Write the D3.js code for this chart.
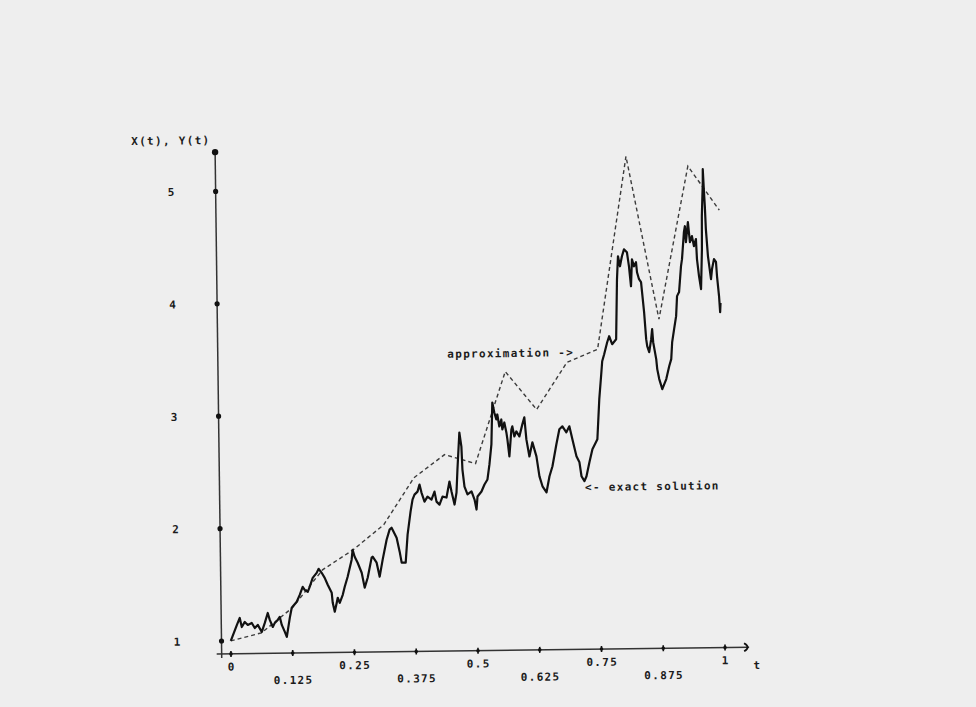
<!DOCTYPE html>
<html>
<head>
<meta charset="utf-8">
<script src="https://cdn.jsdelivr.net/npm/d3@7"></script>
<style>
  body { margin: 0; background: #eeeeee; }
  .lbl { font-family: "DejaVu Sans Mono", monospace; font-weight: bold; font-size: 11px; letter-spacing: 1.3px; fill: #1c1c1c; }
</style>
</head>
<body>
<div id="chart"></div>
<script>
// exact solution X(t)
var tExact = [0, .0126, .0187, .0226, .0288, .0348, .0429, .0489, .055, .063,
  .0693, .0755, .0794, .0854, .0895, .0956, .0997, .1036, .1096, .1135,
  .12, .1242, .1345, .1407, .1469, .1509, .157, .1611, .1674, .1756,
  .1797, .1857, .1917, .1976, .2055, .2073, .2112, .2154, .2176, .2215,
  .2278, .232, .2382, .2467, .2489, .2529, .2588, .2667, .2724, .2787,
  .2872, .2893, .2972, .303, .3095, .318, .3243, .3284, .3383, .3441,
  .3479, .356, .3606, .3672, .3715, .3756, .3818, .386, .3898, .3957,
  .4019, .4099, .4162, .42, .426, .4323, .4403, .4467, .4506, .4564,
  .4607, .4632, .468, .4718, .4733, .477, .4829, .4911, .497, .5008,
  .5031, .5113, .5175, .5237, .5281, .5326, .5355, .5393, .5432, .5453,
  .5491, .5533, .5551, .5593, .5632, .5651, .5687, .5734, .5754, .5793,
  .5834, .5894, .5957, .5999, .6035, .6092, .6156, .6234, .629, .6349,
  .6429, .6493, .6556, .6641, .6705, .6767, .6846, .6908, .6966, .7044,
  .7103, .7141, .72, .7242, .7305, .7369, .7472, .7521, .7567, .759,
  .7632, .7696, .7737, .7796, .7878, .7911, .7937, .7975, .8017, .806,
  .8119, .8157, .8193, .8219, .8258, .83, .8318, .8357, .8397, .8415,
  .8451, .8486, .8505, .8544, .8587, .8609, .8627, .8684, .8702, .874,
  .8799, .8882, .8946, .8988, .9011, .9054, .9098, .9122, .9164, .921,
  .9232, .9278, .9299, .9316, .9361, .9397, .9439, .9477, .9519, .9535,
  .9572, .961, .9638, .9645, .9673, .9676, .9692, .9708, .9723, .9758,
  .9814, .9837, .9879, .9919, .9936, .9972, .999, 1];
var vExact = [1.0, 1.14, 1.203, 1.122, 1.167, 1.14, 1.157, 1.112, 1.139, 1.076,
  1.156, 1.244, 1.182, 1.119, 1.155, 1.181, 1.208, 1.136, 1.074, 1.029,
  1.198, 1.287, 1.34, 1.401, 1.472, 1.445, 1.427, 1.472, 1.551, 1.595,
  1.631, 1.595, 1.55, 1.488, 1.416, 1.327, 1.247, 1.327, 1.371, 1.326,
  1.397, 1.468, 1.557, 1.708, 1.796, 1.734, 1.68, 1.591, 1.458, 1.546,
  1.724, 1.732, 1.679, 1.554, 1.705, 1.882, 1.971, 1.988, 1.899, 1.774,
  1.676, 1.676, 1.924, 2.129, 2.235, 2.28, 2.306, 2.368, 2.297, 2.216,
  2.26, 2.234, 2.304, 2.215, 2.188, 2.259, 2.25, 2.392, 2.303, 2.187,
  2.293, 2.498, 2.827, 2.702, 2.497, 2.346, 2.275, 2.301, 2.229, 2.14,
  2.256, 2.3, 2.362, 2.406, 2.54, 2.717, 3.09, 3.001, 2.939, 2.983,
  2.876, 2.938, 2.849, 2.911, 2.822, 2.76, 2.609, 2.848, 2.875, 2.786,
  2.83, 2.785, 2.892, 2.954, 2.758, 2.606, 2.731, 2.606, 2.428, 2.339,
  2.285, 2.427, 2.516, 2.711, 2.844, 2.87, 2.816, 2.869, 2.754, 2.602,
  2.548, 2.424, 2.38, 2.423, 2.548, 2.663, 2.751, 3.107, 3.329, 3.444,
  3.506, 3.613, 3.666, 3.595, 3.638, 4.172, 4.376, 4.287, 4.376, 4.437,
  4.411, 4.286, 4.108, 4.348, 4.285, 4.321, 4.232, 4.17, 4.143, 4.054,
  3.876, 3.636, 3.573, 3.52, 3.635, 3.724, 3.608, 3.457, 3.368, 3.279,
  3.189, 3.278, 3.394, 3.455, 3.606, 3.722, 3.837, 4.015, 4.051, 4.281,
  4.343, 4.583, 4.636, 4.494, 4.672, 4.493, 4.547, 4.458, 4.52, 4.342,
  4.191, 4.075, 4.43, 4.724, 5.026, 5.141, 4.964, 4.812, 4.608, 4.368,
  4.163, 4.252, 4.34, 4.314, 4.189, 4.011, 3.868, 3.95];

// approximation Y(t) at the grid points t = k/16
var tApprox = [0, .0625, .125, .1875, .25, .3125, .375, .4375, .5,
  .5625, .625, .6875, .75, .8125, .875, .9375, 1];
var vApprox = [1.0, 1.068, 1.286, 1.621, 1.796, 2.015, 2.43, 2.632, 2.549,
  3.364, 3.023, 3.438, 3.551, 5.264, 3.812, 5.17, 4.775];

// axis ticks
var xTicks = [0, 0.125, 0.25, 0.375, 0.5, 0.625, 0.75, 0.875, 1];
var xTickLabels = ["0", "0.125", "0.25", "0.375", "0.5", "0.625", "0.75", "0.875", "1"];
var yTicks = [1, 2, 3, 4, 5];
var yTickLabels = ["1", "2", "3", "4", "5"];

var exactData = tExact.map(function(t, i) { return { t: t, v: vExact[i] }; });
var approxData = tApprox.map(function(t, i) { return { t: t, v: vApprox[i] }; });

var width = 976, height = 707;

var svg = d3.select("#chart")
  .append("svg")
  .attr("width", width)
  .attr("height", height);

svg.append("rect")
  .attr("width", width)
  .attr("height", height)
  .attr("fill", "#eeeeee");

// the scanned plot sits slightly askew
var g = svg.append("g")
  .attr("transform", "rotate(-0.75, 221.5, 641)");

var xScale = d3.scaleLinear().domain([0, 1]).range([230.8, 724.9]);
var yScale = d3.scaleLinear().domain([1, 5]).range([641, 191.4]);

var axisX = xScale(-0.0188);   // where the vertical axis stands
var axisY = yScale(0.884);     // where the horizontal axis lies
var yTop = yScale(5.35);

// vertical axis
g.append("line")
  .attr("x1", axisX).attr("x2", axisX)
  .attr("y1", yTop).attr("y2", axisY + 4)
  .attr("stroke", "#333").attr("stroke-width", 1.5);

g.append("circle")
  .attr("cx", axisX).attr("cy", yTop).attr("r", 3.2)
  .attr("fill", "#111");

var yAxis = g.append("g")
  .attr("transform", "translate(" + axisX + ",0)")
  .call(d3.axisLeft(yScale)
    .tickValues(yTicks)
    .tickSize(0)
    .tickPadding(40)
    .tickFormat(function(d, i) { return yTickLabels[i]; }));
yAxis.select(".domain").remove();
yAxis.selectAll("text").attr("class", "lbl").attr("font-family", null).attr("font-size", null).attr("fill", null);

g.selectAll(".ydot")
  .data(yTicks)
  .enter()
  .append("circle")
  .attr("class", "ydot")
  .attr("cx", axisX)
  .attr("cy", function(d) { return yScale(d); })
  .attr("r", 2.6)
  .attr("fill", "#111");

// horizontal axis
g.append("line")
  .attr("x1", axisX - 5).attr("x2", 749)
  .attr("y1", axisY).attr("y2", axisY)
  .attr("stroke", "#333").attr("stroke-width", 1.5);

g.append("path")
  .attr("d", "M744," + (axisY - 4) + " Q751," + axisY + " 744," + (axisY + 4))
  .attr("fill", "none").attr("stroke", "#111").attr("stroke-width", 1.8);

var xAxis = g.append("g")
  .attr("transform", "translate(0," + axisY + ")")
  .call(d3.axisBottom(xScale)
    .tickValues(xTicks)
    .tickSize(0)
    .tickFormat(function(d, i) { return xTickLabels[i]; }));
xAxis.select(".domain").remove();
xAxis.selectAll("text")
  .attr("class", "lbl").attr("font-family", null).attr("font-size", null).attr("fill", null)
  .attr("y", function(d, i) { return i % 2 ? 27 : 13; })
  .attr("dy", "0.35em");

g.selectAll(".xtick")
  .data(xTicks)
  .enter()
  .append("line")
  .attr("class", "xtick")
  .attr("x1", function(d) { return xScale(d); })
  .attr("x2", function(d) { return xScale(d); })
  .attr("y1", axisY - 3).attr("y2", axisY + 3)
  .attr("stroke", "#111").attr("stroke-width", 1.6);

g.selectAll(".xdot")
  .data(xTicks)
  .enter()
  .append("circle")
  .attr("class", "xdot")
  .attr("cx", function(d) { return xScale(d); })
  .attr("cy", axisY)
  .attr("r", 1.8)
  .attr("fill", "#111");

g.append("text")
  .attr("class", "lbl")
  .attr("x", 757).attr("y", axisY + 22)
  .attr("text-anchor", "middle")
  .text("t");

g.append("text")
  .attr("class", "lbl")
  .attr("x", 217).attr("y", yTop - 12)
  .attr("dy", "0.35em")
  .attr("text-anchor", "end")
  .text("X(t), Y(t)");

// series
var line = d3.line()
  .x(function(d) { return xScale(d.t); })
  .y(function(d) { return yScale(d.v); });

g.append("path")
  .datum(approxData)
  .attr("fill", "none")
  .attr("stroke", "#3c3c3c")
  .attr("stroke-width", 1.4)
  .attr("stroke-dasharray", "4,3")
  .attr("d", line);

g.append("path")
  .datum(exactData)
  .attr("fill", "none")
  .attr("stroke", "#111")
  .attr("stroke-width", 2.2)
  .attr("stroke-linejoin", "round")
  .attr("d", line);

// annotations
g.append("text")
  .attr("class", "lbl")
  .attr("x", 451).attr("y", 357)
  .attr("dy", "0.35em")
  .text("approximation ->");

g.append("text")
  .attr("class", "lbl")
  .attr("x", 587).attr("y", 492)
  .attr("dy", "0.35em")
  .text("<- exact solution");
</script>
</body>
</html>
